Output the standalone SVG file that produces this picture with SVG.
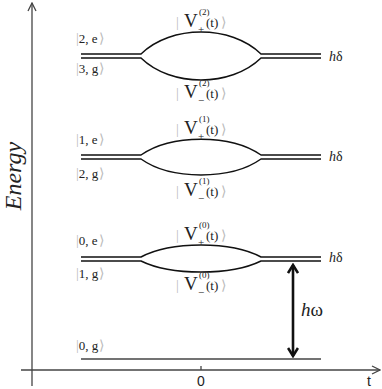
<svg xmlns="http://www.w3.org/2000/svg" width="382" height="389" viewBox="0 0 382 389" font-family="'Liberation Serif', 'Times New Roman', Times, serif">
<style>
.ax{stroke:#444;stroke-width:1.3;fill:none}
.lv{stroke:#111;stroke-width:1.5;fill:none}
text{fill:#222}
.ket{font-size:13px}
.br{fill:#bbb;font-size:14px}
.V{font-size:19px}
.sb{font-size:11px}
.sp{font-size:9px}
.t{font-size:13px}
.hd{font-size:14px}
.sans{font-family:'Liberation Sans',Arial,sans-serif;font-size:14px}
</style>
<defs>
<marker id="open" viewBox="0 0 10 10" refX="9" refY="5" markerWidth="10" markerHeight="10" markerUnits="userSpaceOnUse" orient="auto">
<path d="M1,1 L9,5 L1,9" fill="none" stroke="#444" stroke-width="1.3"/>
</marker>
<marker id="thick" viewBox="0 0 12 12" refX="10" refY="6" markerWidth="12" markerHeight="12" markerUnits="userSpaceOnUse" orient="auto-start-reverse">
<path d="M2,1 L10,6 L2,11" fill="none" stroke="#111" stroke-width="2.6"/>
</marker>
</defs>
<g id="axes">
<line class="ax" x1="32" y1="386" x2="32" y2="3" marker-end="url(#open)"/>
<line class="ax" x1="21" y1="370" x2="380" y2="370" marker-end="url(#open)"/>
<line class="ax" x1="201" y1="366" x2="201" y2="370"/>
<text class="sans" x="201" y="386" text-anchor="middle">0</text>
<text class="sans" x="369" y="386" text-anchor="middle">t</text>
<text x="21" y="176" transform="rotate(-90 21 176)" text-anchor="middle" font-style="italic" font-size="24">Energy</text>
</g>
<g id="level2">
<path class="lv" d="M81,54 H141 C171,24.7 231,24.7 261,54 H321"/>
<path class="lv" d="M81,58 H141 C171,87.3 231,87.3 261,58 H321"/>
<text class="ket" x="76" y="43"><tspan class="br">|</tspan>2, e<tspan class="br" dx="1">⟩</tspan></text>
<text class="ket" x="76" y="73"><tspan class="br">|</tspan>3, g<tspan class="br" dx="1">⟩</tspan></text>
<text class="hd" x="329" y="61"><tspan font-style="italic">h</tspan>δ</text>
<g>
<text class="br" x="176" y="27">|</text><text class="V" x="184" y="27">V</text><text class="sp" x="199" y="15">(2)</text><text class="sb" x="198" y="33">+</text><text class="t" x="206" y="27">(t)</text><text class="br" x="221" y="27">⟩</text>
<text class="br" x="176" y="98">|</text><text class="V" x="184" y="98">V</text><text class="sp" x="199" y="86">(2)</text><text class="sb" x="198" y="104">−</text><text class="t" x="206" y="98">(t)</text><text class="br" x="221" y="98">⟩</text>
</g>
</g>
<g id="level1">
<path class="lv" d="M81,155 H141 C171,133.9 231,133.9 261,155 H321"/>
<path class="lv" d="M81,159 H141 C171,180.3 231,180.3 261,159 H321"/>
<text class="ket" x="76" y="144"><tspan class="br">|</tspan>1, e<tspan class="br" dx="1">⟩</tspan></text>
<text class="ket" x="76" y="178"><tspan class="br">|</tspan>2, g<tspan class="br" dx="1">⟩</tspan></text>
<text class="hd" x="329" y="161"><tspan font-style="italic">h</tspan>δ</text>
<g>
<text class="br" x="176" y="134">|</text><text class="V" x="184" y="134">V</text><text class="sp" x="199" y="122">(1)</text><text class="sb" x="198" y="140">+</text><text class="t" x="206" y="134">(t)</text><text class="br" x="221" y="134">⟩</text>
<text class="br" x="176" y="196">|</text><text class="V" x="184" y="196">V</text><text class="sp" x="199" y="184">(1)</text><text class="sb" x="198" y="202">−</text><text class="t" x="206" y="196">(t)</text><text class="br" x="221" y="196">⟩</text>
</g>
</g>
<g id="level0">
<path class="lv" d="M81,257 H141 C171,241 231,241 261,257 H321"/>
<path class="lv" d="M81,261 H141 C171,275.7 231,275.7 261,261 H321"/>
<text class="ket" x="76" y="245"><tspan class="br">|</tspan>0, e<tspan class="br" dx="1">⟩</tspan></text>
<text class="ket" x="76" y="278"><tspan class="br">|</tspan>1, g<tspan class="br" dx="1">⟩</tspan></text>
<text class="hd" x="329" y="262"><tspan font-style="italic">h</tspan>δ</text>
<g>
<text class="br" x="176" y="240">|</text><text class="V" x="184" y="240">V</text><text class="sp" x="199" y="228">(0)</text><text class="sb" x="198" y="246">+</text><text class="t" x="206" y="240">(t)</text><text class="br" x="221" y="240">⟩</text>
<text class="br" x="176" y="290">|</text><text class="V" x="184" y="290">V</text><text class="sp" x="199" y="278">(0)</text><text class="sb" x="198" y="296">−</text><text class="t" x="206" y="290">(t)</text><text class="br" x="221" y="290">⟩</text>
</g>
</g>
<g id="ground">
<line x1="81" y1="359" x2="321" y2="359" stroke="#444" stroke-width="1.5"/>
<text class="ket" x="76" y="350"><tspan class="br">|</tspan>0, g<tspan class="br" dx="1">⟩</tspan></text>
</g>
<g id="connectors">
<line x1="293" y1="265" x2="293" y2="356" stroke="#111" stroke-width="2.6" marker-start="url(#thick)" marker-end="url(#thick)"/>
<text x="301" y="316" font-size="19"><tspan font-style="italic">h</tspan>ω</text>
</g>
</svg>
